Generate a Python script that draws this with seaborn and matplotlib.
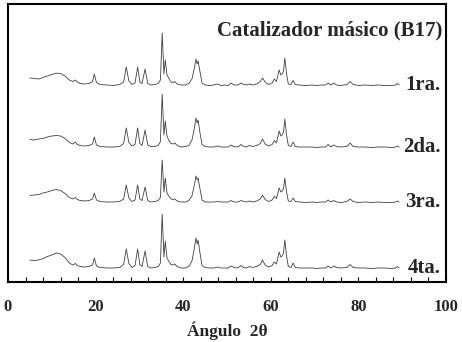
import numpy as np
import pandas as pd
import matplotlib
matplotlib.use("Agg")
import matplotlib.pyplot as plt
import matplotlib.transforms as mtransforms
import seaborn as sns

# Difractogramas (2theta, intensidad en u.a.)
angulo = [5.0, 6.0, 7.0, 8.0, 9.0, 10.0, 11.0, 12.0, 13.0, 14.0, 14.8, 15.4, 15.8, 16.5,
          17.5, 18.5, 19.3, 19.7, 20.2, 21.0, 22.5, 24.0, 25.5, 26.4, 27.0, 27.6, 28.3, 29.0,
          29.6, 30.1, 30.6, 31.3, 31.9, 32.6, 33.5, 34.3, 34.8, 35.2, 35.6, 35.9, 36.3, 36.7,
          37.2, 37.7, 38.1, 38.6, 39.5, 40.5, 41.3, 42.0, 42.6, 42.9, 43.2, 43.4, 43.8, 44.3,
          45.0, 46.0, 47.0, 47.8, 48.6, 49.5, 50.3, 50.9, 51.6, 52.5, 53.2, 53.8, 54.5, 55.1,
          55.8, 56.8, 57.6, 58.1, 58.7, 59.5, 60.3, 60.8, 61.3, 61.9, 62.3, 62.6, 62.9, 63.2,
          63.6, 64.0, 64.6, 65.1, 65.6, 66.5, 68.0, 69.5, 70.5, 71.5, 72.5, 73.1, 73.7, 74.4,
          75.0, 76.0, 77.4, 78.1, 78.8, 80.0, 81.5, 83.0, 84.5, 86.0, 87.5, 88.5, 88.9, 89.3]

int_1ra = [80, 75, 70, 85, 100, 115, 128, 125, 100, 60, 45, 60, 40, 25,
           20, 25, 45, 120, 35, 15, 10, 5, 15, 40, 190, 50, 15, 30,
           190, 40, 25, 170, 25, 10, 15, 25, 60, 530, 120, 260, 110, 80,
           40, 35, 45, 20, 10, 10, 25, 70, 190, 270, 220, 250, 150, 30,
           10, 5, 10, 20, 5, 10, 5, 30, 10, 10, 30, 15, 10, 20,
           10, 20, 45, 80, 40, 15, 30, 70, 45, 160, 110, 120, 150, 280,
           120, 20, 15, 55, 15, 10, 5, 10, 5, 10, 10, 30, 10, 30,
           10, 5, 15, 45, 15, 5, 10, 5, 10, 5, 5, 10, 25, 10]

int_2da = [85, 80, 90, 95, 110, 120, 125, 120, 95, 55, 40, 60, 35, 25,
           20, 25, 40, 110, 30, 15, 10, 10, 15, 45, 200, 55, 20, 35,
           200, 45, 25, 180, 30, 15, 15, 25, 65, 540, 130, 270, 120, 80,
           45, 40, 50, 25, 10, 15, 25, 80, 210, 300, 250, 280, 160, 35,
           15, 10, 10, 20, 10, 10, 10, 30, 15, 10, 35, 15, 10, 25,
           15, 25, 45, 90, 40, 20, 35, 75, 50, 170, 120, 130, 160, 290,
           130, 25, 15, 60, 15, 10, 10, 10, 5, 10, 10, 35, 10, 30,
           15, 10, 15, 50, 15, 10, 10, 5, 10, 10, 5, 10, 20, 10]

int_3ra = [75, 80, 85, 100, 110, 125, 135, 125, 95, 55, 40, 55, 35, 25,
           20, 25, 40, 100, 30, 15, 10, 10, 15, 40, 180, 50, 15, 30,
           180, 40, 25, 160, 25, 10, 15, 25, 55, 430, 110, 250, 100, 70,
           40, 35, 40, 20, 10, 10, 25, 70, 190, 270, 230, 250, 150, 30,
           10, 10, 10, 15, 10, 10, 10, 25, 10, 10, 25, 15, 10, 20,
           10, 20, 40, 80, 35, 15, 30, 65, 45, 150, 110, 120, 140, 250,
           110, 20, 15, 50, 15, 10, 5, 10, 5, 10, 10, 30, 10, 25,
           10, 5, 15, 40, 15, 5, 10, 5, 10, 5, 5, 10, 20, 10]

int_4ta = [90, 85, 90, 105, 125, 140, 160, 150, 115, 60, 40, 55, 35, 25,
           20, 25, 40, 110, 30, 15, 10, 10, 15, 45, 200, 55, 15, 35,
           200, 45, 25, 180, 25, 10, 15, 25, 60, 550, 120, 280, 110, 80,
           45, 40, 50, 25, 10, 10, 25, 80, 220, 310, 250, 290, 170, 35,
           15, 10, 10, 20, 10, 10, 10, 30, 15, 10, 35, 15, 10, 25,
           15, 25, 45, 90, 40, 20, 35, 70, 50, 170, 120, 130, 160, 290,
           130, 25, 15, 60, 15, 10, 10, 10, 5, 10, 10, 30, 10, 30,
           15, 10, 15, 45, 15, 10, 10, 5, 10, 10, 5, 10, 25, 10]

etiquetas = ["1ra.", "2da.", "3ra.", "4ta."]
desplazamientos = [1960, 1340, 790, 130]

series = [int_1ra, int_2da, int_3ra, int_4ta]
filas = []
for etq, desp, ints in zip(etiquetas, desplazamientos, series):
    for a, i in zip(angulo, ints):
        filas.append({"angulo": a, "intensidad": i + desp, "uso": etq})
df = pd.DataFrame(filas)

sns.set_style("white")
plt.rcParams["font.family"] = ["Liberation Serif", "DejaVu Serif"]
plt.rcParams["font.weight"] = "bold"

fig = plt.figure(figsize=(4.62, 3.42), dpi=100)
ax = fig.add_axes([8 / 462, 1 - 282 / 342, 438 / 462, 278 / 342])

sns.lineplot(data=df, x="angulo", y="intensidad", hue="uso",
             palette=["#404040"] * 4, linewidth=0.6, legend=False, ax=ax,
             estimator=None, sort=False)

ax.set_xlim(0, 100)
ax.set_ylim(0, 2780)
ax.set_yticks([])
ax.set_xticks(np.arange(0, 101, 20))
ax.set_xticks(np.arange(0, 101, 4), minor=True)
ax.tick_params(axis="x", which="both", direction="in", bottom=True, top=False,
               length=3.5, width=0.8, color="black")
ax.tick_params(axis="x", which="major", pad=12, labelsize=12)
for lbl in ax.get_xticklabels():
    lbl.set_fontweight("bold")

for s in ax.spines.values():
    s.set_visible(True)
    s.set_color("black")
    s.set_linewidth(1.5)

ax.set_xlabel("Ángulo  2θ", fontsize=12.5, fontweight="bold", labelpad=5)
ax.set_ylabel("")

tr = mtransforms.blended_transform_factory(ax.transAxes, ax.transData)
for etq, desp in zip(etiquetas, desplazamientos):
    ax.text(0.988, desp + 10, etq, transform=tr, ha="right", va="center",
            fontsize=15, fontweight="bold")

ax.text(0.992, 0.905, "Catalizador másico (B17)", transform=ax.transAxes,
        ha="right", va="center", fontsize=15, fontweight="bold")

fig.savefig("out.png", dpi=100)
